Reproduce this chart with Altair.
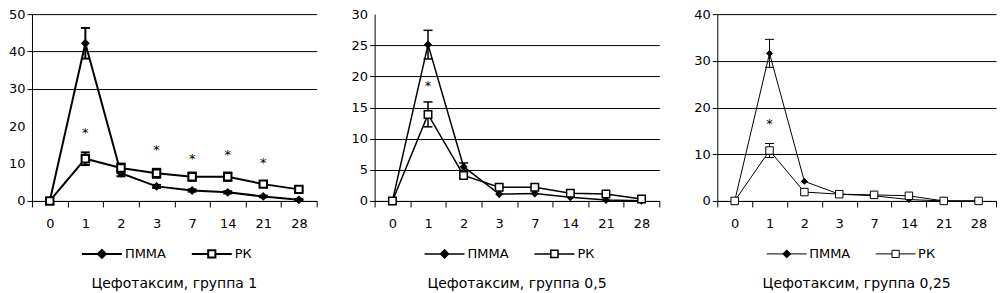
import json
import altair as alt
import pandas as pd

DAYS = ["0", "1", "2", "3", "7", "14", "21", "28"]
SERIES = ["ПММА", "РК"]

# Panel 1: Цефотаксим, группа 1
P1_PMMA = [0, 42.2, 7.4, 3.9, 2.8, 2.3, 1.2, 0.3]
P1_PMMA_ERR = [0, 4.1, 0.8, 0.4, 0.3, 0.3, 0.2, 0.2]
P1_RK = [0, 11.3, 8.8, 7.4, 6.5, 6.5, 4.5, 3.1]
P1_RK_ERR = [0, 1.7, 1.2, 1.2, 1.1, 1.1, 0.6, 0.5]
P1_STAR_DAYS = ["1", "3", "7", "14", "21"]
P1_STAR_Y = [19, 14.5, 12, 13, 11]

# Panel 2: Цефотаксим, группа 0,5
P2_PMMA = [0, 25.1, 5.5, 1.1, 1.2, 0.6, 0.15, 0.05]
P2_PMMA_ERR = [0, 2.3, 0.6, 0, 0, 0, 0, 0]
P2_RK = [0, 13.9, 4.1, 2.2, 2.2, 1.25, 1.1, 0.3]
P2_RK_ERR = [0, 2.0, 0.4, 0, 0, 0, 0, 0]
P2_STAR_DAYS = ["1"]
P2_STAR_Y = [19]

# Panel 3: Цефотаксим, группа 0,25
P3_PMMA = [0, 31.6, 4.2, 1.45, 1.1, 0.3, 0, 0]
P3_PMMA_ERR = [0, 3.0, 0, 0, 0, 0, 0, 0]
P3_RK = [0, 10.8, 1.9, 1.45, 1.3, 1.1, 0, 0]
P3_RK_ERR = [0, 1.5, 0, 0, 0, 0, 0, 0]
P3_STAR_DAYS = ["1"]
P3_STAR_Y = [17.2]

FONT = "DejaVu Sans"
H = 187
LEG_PMMA = "M-1,0H1M0,-0.2L0.2,0L0,0.2L-0.2,0Z"
LEG_RK = "M-1,0H-0.18M0.18,0H1M-0.18,-0.18H0.18V0.18H-0.18Z"


def panel(pmma, pmma_err, rk, rk_err, star_days, star_vals, ymax, ystep,
          grid_vals, title, lw, width):
    rows = []
    for s, vals, errs in ((SERIES[0], pmma, pmma_err), (SERIES[1], rk, rk_err)):
        for d, v, e in zip(DAYS, vals, errs):
            rows.append({"day": d, "series": s, "value": v, "err": e,
                         "lo": v - e, "hi": v + e})
    df = pd.DataFrame(rows)
    stars = pd.DataFrame({"day": star_days, "value": star_vals})
    yvals = list(range(0, ymax + 1, ystep))
    test = "indexof(%s, datum.value) >= 0" % json.dumps(grid_vals)

    xaxis = alt.Axis(title=None, labelAngle=0, tickBand="extent", tickSize=6,
                     labelPadding=11, grid=False)
    x = alt.X("day:N", sort=DAYS,
              scale=alt.Scale(type="band", paddingInner=0, paddingOuter=0),
              axis=xaxis)
    yscale = alt.Scale(domain=[0, ymax], nice=False)
    yaxis = alt.Axis(values=yvals, title=None, grid=True, gridColor="black",
                     gridWidth=1,
                     gridOpacity={"condition": {"test": test, "value": 1}, "value": 0},
                     tickOpacity={"condition": {"test": test, "value": 1}, "value": 0},
                     tickSize=5, labelPadding=2)

    def Y(field):
        return alt.Y(field, scale=yscale, axis=yaxis)

    base = alt.Chart(df)
    lines = base.mark_line(color="black", strokeWidth=lw).encode(
        x=x, y=Y("value:Q"), detail="series:N")
    ebase = base.transform_filter("datum.err > 0")
    rules = ebase.mark_rule(color="black", strokeWidth=lw).encode(
        x=x, y=Y("lo:Q"), y2="hi:Q")
    cap_hi = ebase.mark_tick(color="black", thickness=lw, size=9, opacity=1).encode(
        x=x, y=Y("hi:Q"))
    cap_lo = ebase.mark_tick(color="black", thickness=lw, size=9, opacity=1).encode(
        x=x, y=Y("lo:Q"))

    pm = base.transform_filter(alt.datum.series == SERIES[0]).mark_point(
        shape="diamond", fill="black", stroke="black", strokeWidth=lw,
        opacity=1, size=36, filled=True).encode(x=x, y=Y("value:Q"))
    rk_pts = base.transform_filter(alt.datum.series == SERIES[1]).mark_point(
        shape="square", fill="white", stroke="black", strokeWidth=lw,
        opacity=1, size=56).encode(x=x, y=Y("value:Q"))

    leg = alt.Legend(
        title=None, orient="none", legendX=49, legendY=H + 45,
        direction="horizontal", symbolSize=1600,
        labelFont=FONT, labelFontSize=13, labelColor="black",
        columnPadding=24, labelOffset=2, symbolStrokeWidth=lw,
        symbolStrokeColor="black", symbolOpacity=1, clipHeight=16)
    legend_layer = base.transform_filter("false").mark_point(
        strokeWidth=lw, opacity=1, size=1600).encode(
        x=x, y=Y("value:Q"),
        shape=alt.Shape("series:N", scale=alt.Scale(domain=SERIES, range=[LEG_PMMA, LEG_RK]),
                        legend=leg),
        fill=alt.Fill("series:N", scale=alt.Scale(domain=SERIES, range=["black", "white"]),
                      legend=leg),
        stroke=alt.Stroke("series:N", scale=alt.Scale(domain=SERIES, range=["black", "black"]),
                          legend=leg))
    star = alt.Chart(stars).mark_text(text="*", font=FONT, fontSize=13,
                                      color="black", baseline="middle", dy=3).encode(
        x=x, y=Y("value:Q"))

    return alt.layer(lines, rules, cap_hi, cap_lo, pm, rk_pts, star, legend_layer).properties(
        width=width, height=H,
        title=alt.TitleParams(title, orient="bottom", font=FONT, fontSize=14,
                              fontWeight="normal", color="black", offset=15))


p1 = panel(P1_PMMA, P1_PMMA_ERR, P1_RK, P1_RK_ERR, P1_STAR_DAYS, P1_STAR_Y,
           50, 10, [0, 30, 40, 50], "Цефотаксим, группа 1", 2, 285)
p2 = panel(P2_PMMA, P2_PMMA_ERR, P2_RK, P2_RK_ERR, P2_STAR_DAYS, P2_STAR_Y,
           30, 5, [0, 5, 10, 15, 20, 25], "Цефотаксим, группа 0,5", 1.5, 285)
p3 = panel(P3_PMMA, P3_PMMA_ERR, P3_RK, P3_RK_ERR, P3_STAR_DAYS, P3_STAR_Y,
           40, 10, [0, 10, 20, 30, 40], "Цефотаксим, группа 0,25", 1, 279)

chart = alt.hconcat(p1, p2, p3, spacing=33).resolve_scale(
    x="independent", y="independent", shape="independent", fill="independent",
    stroke="independent"
).resolve_legend(
    shape="independent", fill="independent", stroke="independent").configure_axis(
    labelFont=FONT, labelFontSize=13, labelColor="black", domainColor="black",
    tickColor="black", domainWidth=1).configure_view(strokeWidth=0).properties(
    padding=0)

chart.save("out.html", embed_options={"renderer": "svg", "actions": False})
